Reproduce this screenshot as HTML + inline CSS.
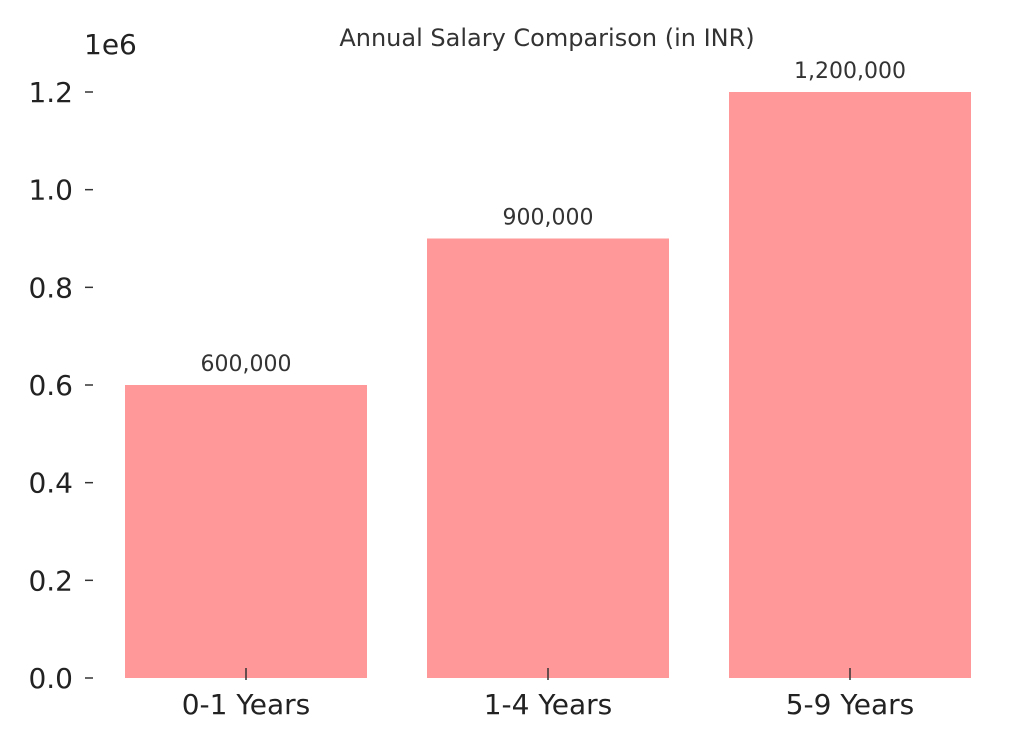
<!DOCTYPE html>
<html><head><meta charset="utf-8"><style>
body{margin:0;background:#fff;}
svg{display:block;font-family:"DejaVu Sans","Liberation Sans",sans-serif;}
</style></head><body>
<svg id="chart" width="1033" height="741" viewBox="0 0 1033 741">
<text x="547" y="46" text-anchor="middle" font-size="24" fill="#333">Annual Salary Comparison (in INR)</text>
<text x="84" y="54" font-size="28" fill="#222">1e6</text>
<g id="yaxis"></g>
<g id="bars"></g>
<g id="xaxis"></g>
</svg>
<script>
const categories = ["0-1 Years", "1-4 Years", "5-9 Years"];
const salaries = [600000, 900000, 1200000];
const valueLabels = ["600,000", "900,000", "1,200,000"];
const yTicks = [0, 200000, 400000, 600000, 800000, 1000000, 1200000];
const yTickLabels = ["0.0", "0.2", "0.4", "0.6", "0.8", "1.0", "1.2"];

const NS = "http://www.w3.org/2000/svg";
const y0 = 678, yTop = 92, yMax = 1200000;
function yScale(v){ return y0 - (v / yMax) * (y0 - yTop); }
const xFirst = 246, xStep = 302, barW = 242;
function xScale(i){ return xFirst + i * xStep; }
function mk(tag, attrs, parent){
  const e = document.createElementNS(NS, tag);
  for (const k in attrs) e.setAttribute(k, attrs[k]);
  parent.appendChild(e);
  return e;
}
const ya = document.getElementById("yaxis");
const ba = document.getElementById("bars");
const xa = document.getElementById("xaxis");
yTicks.forEach((v, i) => {
  const y = yScale(v);
  const t = mk("line", {x1: 85, x2: 93, y1: y, y2: y, stroke: "#333", "stroke-width": 1.5}, ya);
  
  
  const l = mk("text", {x: 73, y: y + 10, "text-anchor": "end", "font-size": 28, fill: "#222"}, ya);
  l.textContent = yTickLabels[i];
  
  
});
categories.forEach((c, i) => {
  const cx = xScale(i), top = yScale(salaries[i]);
  const r = mk("rect", {x: cx - barW / 2, y: top, width: barW, height: y0 - top, fill: "#ff9999"}, ba);
  
  
  const vl = mk("text", {x: cx, y: top - 14, "text-anchor": "middle", "font-size": 22, fill: "#333"}, ba);
  vl.textContent = valueLabels[i];
  
  
  const tk = mk("line", {x1: cx, x2: cx, y1: 668, y2: 680, stroke: "#333", "stroke-width": 1.5}, xa);
  
  
  const xl = mk("text", {x: cx, y: 714, "text-anchor": "middle", "font-size": 28, fill: "#222"}, xa);
  xl.textContent = c;
  
  
});
</script>
</body></html>
